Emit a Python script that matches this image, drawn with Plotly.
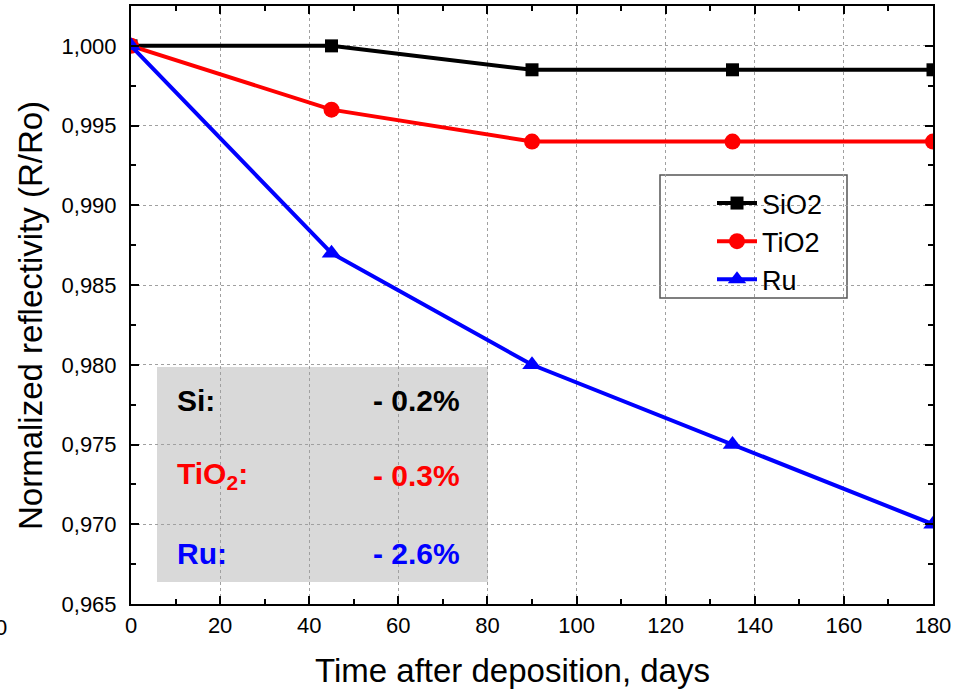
import plotly.graph_objects as go

days = [0, 45, 90, 135, 180]
sio2 = [1.000, 1.000, 0.9985, 0.9985, 0.9985]
tio2 = [1.000, 0.996, 0.994, 0.994, 0.994]
ru = [1.000, 0.987, 0.980, 0.975, 0.970]

series_names = ["SiO2", "TiO2", "Ru"]
box_labels = ["Si:", "TiO<sub>2</sub>:", "Ru:"]
box_values = ["- 0.2%", "- 0.3%", "- 2.6%"]
x_title = "Time after deposition, days"
y_title = "Normalized reflectivity (R/Ro)"

colors = ["#000000", "#ff0000", "#0000ff"]
symbols = ["square", "circle", "triangle-up"]
msizes = [13, 16, 17]

FONT = "Liberation Sans, Arial, sans-serif"

fig = go.Figure()
for name, vals, c, s, ms in zip(series_names, [sio2, tio2, ru], colors, symbols, msizes):
    fig.add_trace(go.Scatter(
        x=days, y=vals, name=name, mode="lines+markers",
        line=dict(color=c, width=4),
        marker=dict(symbol=s, size=ms, color=c, line=dict(width=0)),
    ))

L, R, T, B = 131, 34, 6, 87
W, H = 967, 691
pw, ph = W - L - R, H - T - B

def px_x(p):
    return (p - L) / pw

def px_y(p):
    return (H - B - p) / ph

# gray annotation box
fig.add_shape(type="rect", xref="paper", yref="paper",
              x0=px_x(157), x1=px_x(488), y0=px_y(582), y1=px_y(367),
              fillcolor="#d9d9d9", line=dict(width=0), layer="between")

row_y = [400, 475, 553]
for lab, val, c, ry in zip(box_labels, box_values, colors, row_y):
    fig.add_annotation(xref="paper", yref="paper", x=px_x(175), y=px_y(ry),
                       text="<b>%s</b>" % lab, showarrow=False, xanchor="left", yanchor="middle",
                       font=dict(family=FONT, size=30, color=c))
    fig.add_annotation(xref="paper", yref="paper", x=px_x(462), y=px_y(ry),
                       text="<b>%s</b>" % val, showarrow=False, xanchor="right", yanchor="middle",
                       font=dict(family=FONT, size=30, color=c))

# legend frame
fig.add_shape(type="rect", xref="paper", yref="paper",
              x0=px_x(660), x1=px_x(847), y0=px_y(298), y1=px_y(175),
              fillcolor="white", line=dict(color="#555555", width=1.5), layer="between")

# stray clipped tick label at left edge
fig.add_annotation(xref="paper", yref="paper", x=px_x(9), y=px_y(627),
                   text="0", showarrow=False, xanchor="right", yanchor="middle",
                   font=dict(family=FONT, size=22, color="black"))

# axis titles
fig.add_annotation(xref="paper", yref="paper", x=px_x(512), y=px_y(670),
                   text=x_title, showarrow=False, xanchor="center", yanchor="middle",
                   font=dict(family=FONT, size=33, color="black"))
fig.add_annotation(xref="paper", yref="paper", x=px_x(30), y=px_y(316),
                   text=y_title, showarrow=False, xanchor="center", yanchor="middle",
                   textangle=-90, font=dict(family=FONT, size=33, color="black"))

axis_common = dict(
    showline=True, linecolor="black", linewidth=2, mirror="allticks",
    ticks="inside", ticklen=8, tickwidth=2, tickcolor="black",
    showgrid=True, gridcolor="#a0a0a0", gridwidth=1, griddash="dot",
    zeroline=False,
    tickfont=dict(family=FONT, size=22, color="black"),
)

fig.update_xaxes(
    range=[0, 180], tickmode="linear", tick0=0, dtick=20,
    minor=dict(dtick=10, ticks="inside", ticklen=5, tickwidth=2, tickcolor="black", showgrid=False),
    ticklabelstandoff=1,
    **axis_common,
)
fig.update_yaxes(
    range=[0.965, 1.0025], tickmode="linear", tick0=0.965, dtick=0.005, tickformat=".3f",
    minor=dict(dtick=0.0025, ticks="inside", ticklen=5, tickwidth=2, tickcolor="black", showgrid=False),
    ticklabelstandoff=8,
    **axis_common,
)

fig.update_layout(
    width=W, height=H,
    margin=dict(l=L, r=R, t=T, b=B, autoexpand=False),
    paper_bgcolor="white", plot_bgcolor="white",
    separators=",.",
    showlegend=True,
    legend=dict(x=px_x(712), y=px_y(179), xanchor="left", yanchor="top",
                bgcolor="rgba(0,0,0,0)", borderwidth=0,
                font=dict(family=FONT, size=27, color="black"),
                tracegroupgap=0, itemwidth=40),
)

fig.write_html("out.html")
